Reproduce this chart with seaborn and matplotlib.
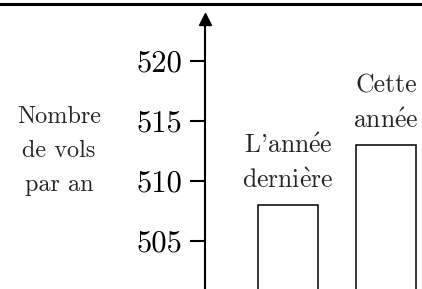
import matplotlib
matplotlib.use('Agg')
import matplotlib.pyplot as plt
from matplotlib.lines import Line2D
import pandas as pd
import seaborn as sns

categories = ["L’année\ndernière", "Cette\nannée"]
vols = [508, 513]
yticks = [505, 510, 515, 520]
ylabel = "Nombre\nde vols\npar an"

sns.set_style('white')
plt.rcParams['font.family'] = ['cmr10', 'DejaVu Serif']
plt.rcParams['mathtext.fontset'] = 'cm'
plt.rcParams['axes.unicode_minus'] = False


def cm_text(s):
    # cmr10 has no accented letters: build them with mathtext accents
    s = s.replace('’', "'")
    s = s.replace('é', r'$\mathrm{\acute{e}}$')
    s = s.replace('è', r'$\mathrm{\grave{e}}$')
    return s


df = pd.DataFrame({'periode': categories, 'vols': vols})

W, H = 422, 289
fig = plt.figure(figsize=(W / 100, H / 100), dpi=100)
ax = fig.add_axes([205 / W, 0, 217 / W, 270 / H])

sns.barplot(data=df, x='periode', y='vols', ax=ax, color='white',
            edgecolor='black', linewidth=1.1, width=0.61, saturation=1)

ax.set_ylim(501.0, 523.5)
ax.set_xlim(-0.847, -0.847 + 217 / 98)
ax.set_yticks(yticks)
ax.set_yticklabels([str(t) for t in yticks], fontsize=22)
ax.tick_params(axis='y', direction='out', length=10.8, width=1.5, pad=5.5,
               left=True, colors='black')
ax.set_xticks([])
ax.set_xlabel('')

for side in ['top', 'right', 'bottom']:
    ax.spines[side].set_visible(False)
ax.spines['left'].set_linewidth(1.5)
ax.spines['left'].set_color('black')
ax.plot(0, 1, marker='^', color='black', markersize=8.6,
        transform=ax.transAxes, clip_on=False)

ax.set_ylabel(ylabel, rotation=0, fontsize=17.5, ha='center', va='center',
              linespacing=1.7)
ax.yaxis.set_label_coords(-0.673, 0.51)

for i, (lab, v) in enumerate(zip(categories, vols)):
    # va='baseline' pins the last line's baseline above the bar
    ax.annotate(cm_text(lab), xy=(i, v), xytext=(0, 12.6),
                textcoords='offset points', ha='center', va='baseline',
                fontsize=18.5, linespacing=1.55)

fig.add_artist(Line2D([0, 1], [1 - 3.5 / H] * 2, color='black', lw=2.2,
                      transform=fig.transFigure))

fig.savefig('out.png', dpi=100)
